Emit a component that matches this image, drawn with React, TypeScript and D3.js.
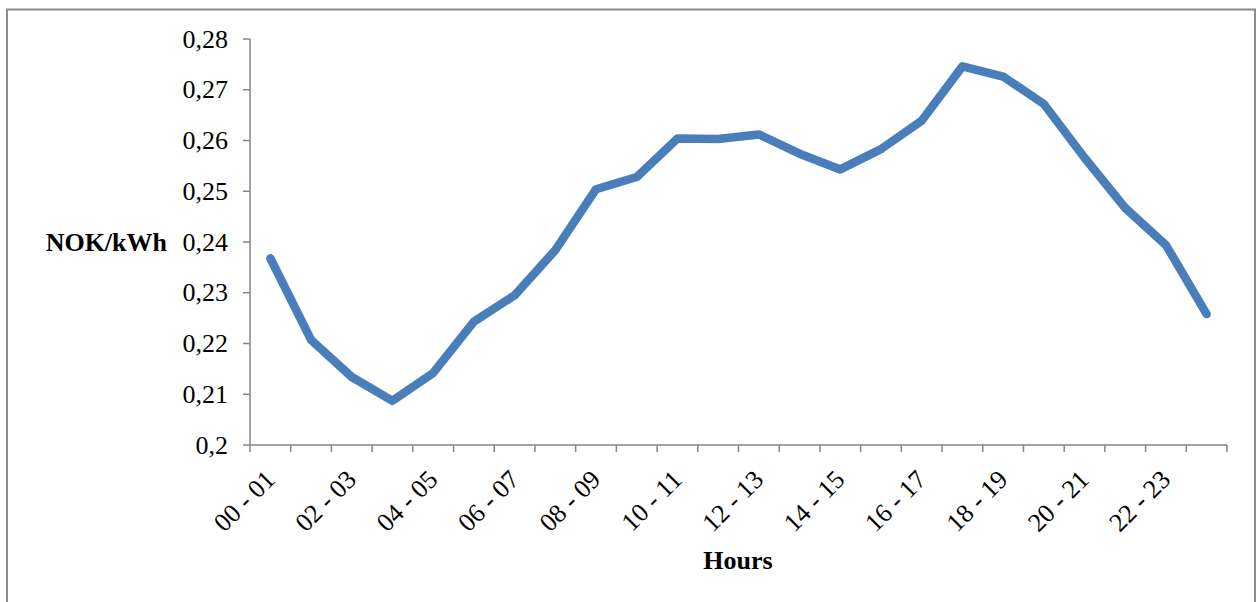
import React, { useEffect, useRef } from 'react';
import * as d3 from 'd3';

// Hourly price profile (NOK/kWh)
const hours: string[] = [
  '00 - 01', '01 - 02', '02 - 03', '03 - 04', '04 - 05', '05 - 06',
  '06 - 07', '07 - 08', '08 - 09', '09 - 10', '10 - 11', '11 - 12',
  '12 - 13', '13 - 14', '14 - 15', '15 - 16', '16 - 17', '17 - 18',
  '18 - 19', '19 - 20', '20 - 21', '21 - 22', '22 - 23', '23 - 24',
];

const prices: number[] = [
  0.2368, 0.2207, 0.2134, 0.2087, 0.2142, 0.2243,
  0.2295, 0.2384, 0.2504, 0.2528, 0.2604, 0.2603,
  0.2612, 0.2574, 0.2543, 0.2583, 0.2639, 0.2746,
  0.2726, 0.2672, 0.2566, 0.2467, 0.2394, 0.2258,
];

const yTicks: number[] = [0.2, 0.21, 0.22, 0.23, 0.24, 0.25, 0.26, 0.27, 0.28];

const W = 1258;
const H = 602;
const FONT = '"Liberation Serif", "Times New Roman", serif';

const App: React.FC = () => {
  const svgRef = useRef<SVGSVGElement>(null);

  useEffect(() => {
    if (!svgRef.current) return;
    const svg = d3.select(svgRef.current);
    svg.selectAll('*').remove();

    const margin = { top: 39, right: 31, bottom: 157, left: 250 };
    const x = d3.scaleBand<string>()
      .domain(hours)
      .range([margin.left, W - margin.right])
      .padding(0);
    const y = d3.scaleLinear()
      .domain([0.2, 0.28])
      .range([H - margin.bottom, margin.top]);

    // outer frame
    svg.append('rect')
      .attr('x', 7)
      .attr('y', 9.5)
      .attr('width', 1248)
      .attr('height', 620)
      .style('fill', '#fff')
      .style('stroke', '#8c8c8c')
      .style('stroke-width', 2);

    const axisColor = '#868686';

    // y axis
    const yAxis = svg.append('g');
    yAxis.append('line')
      .attr('x1', margin.left).attr('x2', margin.left)
      .attr('y1', y(0.28)).attr('y2', y(0.2))
      .style('stroke', axisColor).style('stroke-width', 1.5);
    yAxis.selectAll('.ytick')
      .data(yTicks)
      .enter().append('line')
      .attr('x1', margin.left - 7).attr('x2', margin.left)
      .attr('y1', d => y(d)).attr('y2', d => y(d))
      .style('stroke', axisColor).style('stroke-width', 1.5);
    yAxis.selectAll('.ylabel')
      .data(yTicks)
      .enter().append('text')
      .attr('x', 228)
      .attr('y', d => y(d))
      .attr('dy', '0.33em')
      .style('text-anchor', 'end')
      .style('font-family', FONT)
      .style('font-size', '26px')
      .style('fill', '#000')
      .text(d => String(+d.toFixed(2)).replace('.', ','));

    // x axis
    const xAxis = svg.append('g');
    const y0 = y(0.2);
    xAxis.append('line')
      .attr('x1', margin.left).attr('x2', W - margin.right)
      .attr('y1', y0).attr('y2', y0)
      .style('stroke', axisColor).style('stroke-width', 1.5);
    const boundaries = hours.map(h => x(h) as number).concat([W - margin.right]);
    xAxis.selectAll('.xtick')
      .data(boundaries)
      .enter().append('line')
      .attr('x1', d => d).attr('x2', d => d)
      .attr('y1', y0).attr('y2', y0 + 7)
      .style('stroke', axisColor).style('stroke-width', 1.5);
    xAxis.selectAll('.xlabel')
      .data(hours.filter((_, i) => i % 2 === 0))
      .enter().append('text')
      .attr('transform', d => {
        const cx = (x(d) as number) + x.bandwidth() / 2 + 6;
        return `translate(${cx},${y0 + 36}) rotate(-45)`;
      })
      .style('text-anchor', 'end')
      .style('font-family', FONT)
      .style('font-size', '26px')
      .style('fill', '#000')
      .text(d => d);

    // axis titles
    svg.append('text')
      .attr('x', 167)
      .attr('y', 251)
      .style('text-anchor', 'end')
      .style('font-family', FONT)
      .style('font-size', '26px')
      .style('font-weight', 'bold')
      .text('NOK/kWh');

    svg.append('text')
      .attr('x', 738)
      .attr('y', 569)
      .style('text-anchor', 'middle')
      .style('font-family', FONT)
      .style('font-size', '26px')
      .style('font-weight', 'bold')
      .text('Hours');

    // price line
    const line = d3.line<number>()
      .x((_, i) => (x(hours[i]) as number) + x.bandwidth() / 2)
      .y(d => y(d));

    svg.append('path')
      .datum(prices)
      .attr('d', line)
      .style('fill', 'none')
      .style('stroke', '#4a7ebb')
      .style('stroke-width', 8.5)
      .style('stroke-linecap', 'round')
      .style('stroke-linejoin', 'round');
  }, []);

  return (
    <svg
      ref={svgRef}
      width={W}
      height={H}
      style={{ position: 'absolute', left: 0, top: 0, display: 'block', background: '#fff' }}
    />
  );
};

export default App;
